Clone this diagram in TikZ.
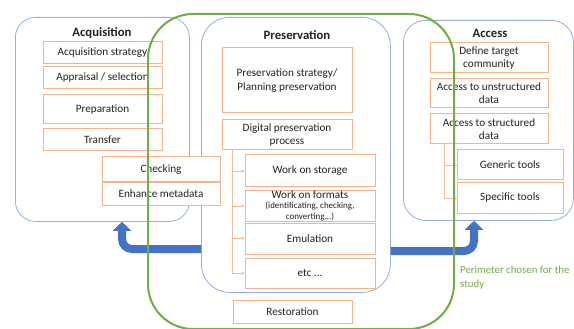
\documentclass[tikz,border=0pt]{standalone}
\usepackage{fontspec}
\setmainfont{Carlito}
\usetikzlibrary{arrows.meta}
\definecolor{panelblue}{RGB}{150,175,220}
\definecolor{boxorange}{RGB}{244,180,140}
\definecolor{treeorange}{RGB}{240,190,150}
\definecolor{perimgreen}{RGB}{112,173,71}
\definecolor{flowblue}{RGB}{68,114,196}
\definecolor{txt}{RGB}{35,35,35}
\tikzset{
  panel/.style={draw=panelblue, line width=0.8pt, anchor=north west, inner sep=0pt},
  paneltitle/.style={font=\fontsize{12.7}{14}\selectfont\bfseries, text=txt},
  obox/.style={draw=boxorange, line width=1pt, fill=white, text=txt, align=center,
    inner sep=1pt, font=\fontsize{11.2}{13.3}\selectfont},
  treeline/.style={draw=treeorange, line width=0.8pt, -{Stealth[length=3pt,width=3pt]}},
  flow/.style={draw=flowblue, line width=8pt, rounded corners=10pt,
    -{Triangle[width=18pt,length=9pt]}},
  perimeter/.style={draw=perimgreen, line width=2pt, rounded corners=45pt, anchor=north west, inner sep=0pt}
}
\begin{document}
\begin{tikzpicture}[x=1pt,y=-1pt]
\useasboundingbox[fill=white] (0,0) rectangle (574,329);

% the three stage panels
\node[panel, rounded corners=20pt, minimum width=174pt, minimum height=204pt] (acq) at (15,17) {};
\node[panel, rounded corners=28pt, minimum width=189pt, minimum height=275pt] (pres) at (201,17) {};
\node[panel, rounded corners=22pt, minimum width=170pt, minimum height=200pt] (acc) at (403,20) {};

\node[paneltitle] (acqt) at (102,33) {Acquisition};
\node[paneltitle] (prest) at (297,35) {Preservation};
\node[paneltitle] (acct) at (490,33) {Access};

% flow arrows between the stages
\coordinate (la) at (122,249);
\coordinate (ra) at (474,251);
\draw[flow] (pres.west |- la) -| (acq.south -| la);
\draw[flow] (pres.east |- ra) -| (acc.south -| ra);

% acquisition steps
\node[obox, minimum width=119pt, minimum height=22pt] (astrat) at (102.5,53) {Acquisition strategy};
\node[obox, minimum width=119pt, minimum height=22pt] (apprais) at (102.5,78) {Appraisal / selection};
\node[obox, minimum width=119pt, minimum height=29pt] (prep) at (102.5,109.5) {Preparation};
\node[obox, minimum width=119pt, minimum height=22pt] (transf) at (102.5,140) {Transfer};
\node[obox, minimum width=118pt, minimum height=25pt] (check) at (161,169.5) {Checking};
\node[obox, minimum width=118pt, minimum height=22pt] (enh) at (161,194) {Enhance metadata};

% preservation steps
\node[obox, minimum width=130pt, minimum height=65pt] (pstrat) at (287,80.5) {Preservation strategy/\\Planning preservation};
\node[obox, minimum width=130pt, minimum height=30pt] (dproc) at (287,135) {Digital preservation\\process};
\node[obox, minimum width=130pt, minimum height=32pt] (stor) at (310,171) {Work on storage};
\node[obox, minimum width=130pt, minimum height=31pt, inner sep=0pt] (form) at (310,206)
  {Work on formats\\[-3pt]{\fontsize{9}{10}\selectfont(identificating, checking,}\\[-2pt]{\fontsize{9}{10}\selectfont converting...)}};
\node[obox, minimum width=130pt, minimum height=31pt] (emul) at (310,238.5) {Emulation};
\node[obox, minimum width=130pt, minimum height=30pt] (etc) at (310,273) {etc ...};
\node[obox, minimum width=119pt, minimum height=23pt] (rest) at (292.5,311.5) {Restoration};

\coordinate (pt) at (232,0);
\foreach \b in {stor,form,emul,etc}
  \draw[treeline] (dproc.south -| pt) |- (\b.west);

% access steps
\node[obox, minimum width=118pt, minimum height=30pt] (target) at (489,58) {Define target\\community};
\node[obox, minimum width=118pt, minimum height=29pt] (unstr) at (489,93.5) {Access to unstructured\\data};
\node[obox, minimum width=118pt, minimum height=30pt] (str) at (489,129) {Access to structured\\data};
\node[obox, minimum width=106pt, minimum height=30pt] (gen) at (510,165) {Generic tools};
\node[obox, minimum width=106pt, minimum height=30pt] (spec) at (510,198) {Specific tools};

\coordinate (at) at (444,0);
\foreach \b in {gen,spec}
  \draw[treeline, -] (str.south -| at) |- (\b.west);

% chosen perimeter
\node[perimeter, minimum width=306pt, minimum height=315pt] (perim) at (147,13) {};
\node[anchor=north west, align=left, text=perimgreen, inner sep=0pt,
  font=\fontsize{10.8}{13.5}\selectfont] (plabel) at (460,266) {Perimeter chosen for the\\study};
\end{tikzpicture}
\end{document}
